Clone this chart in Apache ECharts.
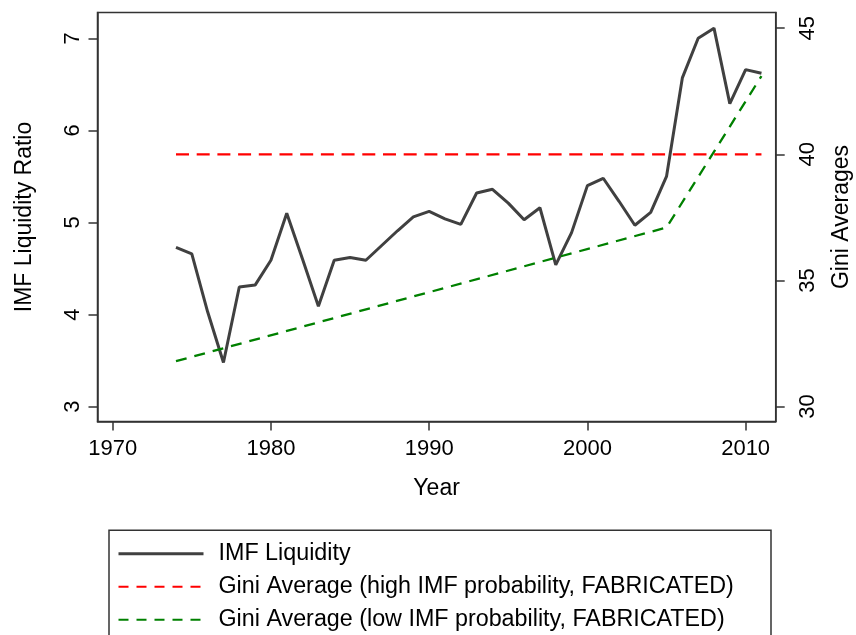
<!DOCTYPE html>
<html>
<head>
<meta charset="utf-8">
<script src="https://cdn.jsdelivr.net/npm/echarts@6/dist/echarts.min.js"></script>
<style>
  html, body { margin: 0; padding: 0; background: #fff; }
  #chart { width: 856px; height: 635px; }
</style>
</head>
<body>
<div id="chart"></div>
<script>
// data
var years = [1974, 1975, 1976, 1977, 1978, 1979, 1980, 1981, 1982, 1983,
  1984, 1985, 1986, 1987, 1988, 1989, 1990, 1991, 1992, 1993,
  1994, 1995, 1996, 1997, 1998, 1999, 2000, 2001, 2002, 2003,
  2004, 2005, 2006, 2007, 2008, 2009, 2010, 2011]
var imfLiquidity = [4.73, 4.66, 4.03, 3.48, 4.30, 4.32, 4.59, 5.10, 4.60, 4.09,
  4.59, 4.62, 4.59, 4.75, 4.91, 5.06, 5.12, 5.04, 4.98, 5.32,
  5.36, 5.21, 5.03, 5.16, 4.54, 4.89, 5.40, 5.48, 5.23, 4.97,
  5.11, 5.50, 6.57, 7.00, 7.11, 6.29, 6.66, 6.62]
var giniHighYears = [1974, 2011]
var giniHigh = [40, 40]
var giniLowYears = [1974, 2005, 2011]
var giniLow = [31.8, 37.1, 43.1]

var yearTicks = [1970, 1980, 1990, 2000, 2010]
var ratioTicks = [3, 4, 5, 6, 7]
var giniTicks = [30, 35, 40, 45]

var seriesNames = ['IMF Liquidity',
  'Gini Average (high IMF probability, FABRICATED)',
  'Gini Average (low IMF probability, FABRICATED)']

function pairs (xs, ys) {
  return xs.map(function (x, i) { return [x, ys[i]] })
}
function plain (v) { return String(v) }

var font = '"Liberation Sans", Arial, Helvetica, sans-serif'
var ink = '#333'

var myChart = echarts.init(document.getElementById('chart'), null, {renderer: 'canvas'})

var option = {
  animation: false,
  backgroundColor: '#fff',
  textStyle: {fontFamily: font, color: '#000'},
  grid: {
    left: 97.5,
    top: 12.5,
    right: 80.3,
    bottom: 213.5,
    outerBoundsMode: 'none',
    show: true,
    borderColor: ink,
    borderWidth: 1.5
  },
  // legend frame, runs off the bottom edge like the original
  graphic: [{
    type: 'rect',
    left: 106.5,
    top: 527.7,
    shape: {width: 662, height: 140},
    style: {fill: null, stroke: ink, lineWidth: 1.5},
    silent: true
  }],
  xAxis: {
    type: 'value',
    min: 1969.04,
    max: 2011.9,
    name: 'Year',
    nameLocation: 'middle',
    nameGap: 56,
    nameTextStyle: {fontSize: 23, color: '#000', fontFamily: font},
    axisLine: {show: true, onZero: false, lineStyle: {color: ink, width: 1.5}},
    axisTick: {show: true, length: 9, lineStyle: {color: ink, width: 1.5}, customValues: yearTicks},
    axisLabel: {fontSize: 22, color: '#000', margin: 16, fontFamily: font, formatter: plain, customValues: yearTicks},
    splitLine: {show: false}
  },
  yAxis: [{
    type: 'value',
    position: 'left',
    min: 2.839,
    max: 7.28,
    name: 'IMF Liquidity Ratio',
    nameLocation: 'middle',
    nameRotate: 90,
    nameGap: 61,
    nameTextStyle: {fontSize: 23, color: '#000', fontFamily: font},
    axisLine: {show: true, onZero: false, lineStyle: {color: ink, width: 1.5}},
    axisTick: {show: true, length: 9, lineStyle: {color: ink, width: 1.5}, customValues: ratioTicks},
    axisLabel: {fontSize: 22, color: '#000', rotate: 90, margin: 14, fontFamily: font, formatter: plain, customValues: ratioTicks},
    splitLine: {show: false}
  }, {
    type: 'value',
    position: 'right',
    min: 29.41,
    max: 45.62,
    name: 'Gini Averages',
    nameLocation: 'middle',
    nameRotate: 90,
    nameGap: 54,
    nameTextStyle: {fontSize: 23, color: '#000', fontFamily: font},
    axisLine: {show: true, onZero: false, lineStyle: {color: ink, width: 1.5}},
    axisTick: {show: true, length: 9, lineStyle: {color: ink, width: 1.5}, customValues: giniTicks},
    axisLabel: {fontSize: 22, color: '#000', rotate: 90, margin: 21, fontFamily: font, formatter: plain, customValues: giniTicks},
    splitLine: {show: false}
  }],
  legend: {
    orient: 'vertical',
    left: 117,
    top: 542.3,
    height: 92,
    padding: 0,
    itemWidth: 85,
    itemHeight: 20,
    itemGap: 10,
    itemStyle: {opacity: 0},
    textStyle: {fontSize: 23.3, lineHeight: 20, color: '#000', fontFamily: font, padding: [0, 0, 0, 10]},
    data: [
      {name: seriesNames[0], lineStyle: {width: 3}},
      {name: seriesNames[1], lineStyle: {width: 2, type: [10, 8]}},
      {name: seriesNames[2], lineStyle: {width: 2, type: [10, 8]}}
    ]
  },
  series: [{
    name: seriesNames[0],
    type: 'line',
    yAxisIndex: 0,
    showSymbol: false,
    symbol: 'none',
    color: '#404040',
    lineStyle: {color: '#404040', width: 3},
    data: pairs(years, imfLiquidity)
  }, {
    name: seriesNames[1],
    type: 'line',
    yAxisIndex: 1,
    showSymbol: false,
    symbol: 'none',
    color: '#ff0000',
    lineStyle: {color: '#ff0000', width: 2.3, type: [13, 7.7]},
    data: pairs(giniHighYears, giniHigh)
  }, {
    name: seriesNames[2],
    type: 'line',
    yAxisIndex: 1,
    showSymbol: false,
    symbol: 'none',
    color: '#008000',
    lineStyle: {color: '#008000', width: 2.3, type: [11, 8]},
    data: pairs(giniLowYears, giniLow)
  }]
}
myChart.setOption(option)
</script>
</body>
</html>
